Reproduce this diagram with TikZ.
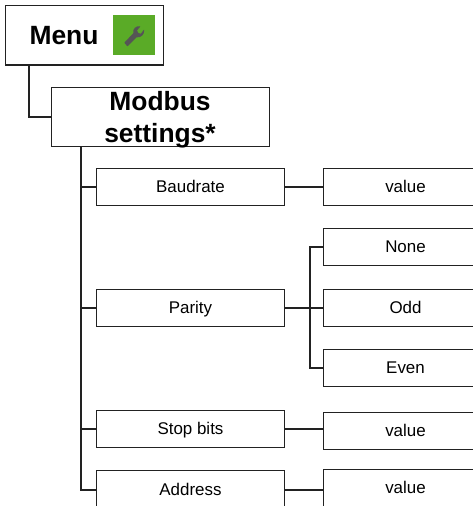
\documentclass[tikz,border=0pt]{standalone}
\usepackage{fontspec}
\setmainfont{Liberation Sans}
\definecolor{ink}{HTML}{222222}
\definecolor{leaf}{HTML}{5AAB27}
\definecolor{tool}{HTML}{555555}
\tikzset{x=0.75pt,y=-0.75pt,
  box/.style={draw=ink,line width=1.05pt,fill=white,inner sep=0pt,align=center,text=black},
  small/.style={box,font=\fontsize{12.7pt}{15pt}\selectfont,text height=10.9pt,text depth=2.8pt},
  big/.style={box},
  bigtext/.style={font=\fontsize{19.8pt}{24pt}\selectfont\bfseries,inner sep=0pt,align=center},
  setting/.style={small,minimum width=141pt,minimum height=27.4pt},
  val/.style={small,minimum width=123pt,minimum height=27.4pt},
  link/.style={draw=ink,line width=1.5pt}}
\begin{document}
\begin{tikzpicture}
\useasboundingbox (0,0) rectangle (473,506);
\fill[white] (0,0) rectangle (473,506);
% boxes
\node[big,minimum width=118.5pt,minimum height=44.6pt] (menu) at (84.5,35.3) {};
\node[bigtext] (menutext) at (64,36) {Menu};
\node[big,minimum width=163.5pt,minimum height=44.3pt] (modbus) at (160.4,117) {};
\node[bigtext] (modbustext) at (160,119.5) {Modbus\\settings*};
\node[setting] (baud) at (190.5,187) {Baudrate};
\node[setting] (parity) at (190.5,308) {Parity};
\node[setting] (stop) at (190.5,429) {Stop bits};
\node[setting,minimum height=29pt] (addr) at (190.5,490) {Address};
\node[val] (v1) at (405.5,187) {value};
\node[val] (none) at (405.5,247) {None};
\node[val] (odd) at (405.5,308) {Odd};
\node[val] (even) at (405.5,368) {Even};
\node[val] (v2) at (405.5,431) {value};
\node[val] (v3) at (405.5,488) {value};
% icon
\node[fill=leaf,minimum width=31.5pt,minimum height=30pt,inner sep=0pt] (icon) at (134,35) {};
\fill[tool,rounded corners=0.3pt] (124.3,42.7) -- (133.5,33)
  .. controls (132.5,29) and (136,25.5) .. (140.5,26.3)
  -- (137,30.5) -- (138.3,33) -- (140.8,33.8)
  -- (144,29.5) .. controls (145,34) and (141,38) .. (136.5,37.3)
  -- (127.5,46.5) -- cycle;
% connectors
\coordinate (t1) at (29,0);
\coordinate (t2) at (81,0);
\coordinate (t3) at (310,0);
\draw[link] (menu.south -| t1) |- (modbus.west);
\draw[link] (modbus.south -| t2) |- (addr.west);
\draw[link] (t2 |- baud) -- (baud.west);
\draw[link] (t2 |- parity) -- (parity.west);
\draw[link] (t2 |- stop) -- (stop.west);
\draw[link] (baud.east) -- (v1.west |- baud);
\draw[link] (parity.east) -- (odd.west);
\draw[link] (stop.east) -- (v2.west |- stop);
\draw[link] (addr.east) -- (v3.west |- addr);
\draw[link] (none.west) -| (t3 |- odd) |- (even.west);
\end{tikzpicture}
\end{document}
